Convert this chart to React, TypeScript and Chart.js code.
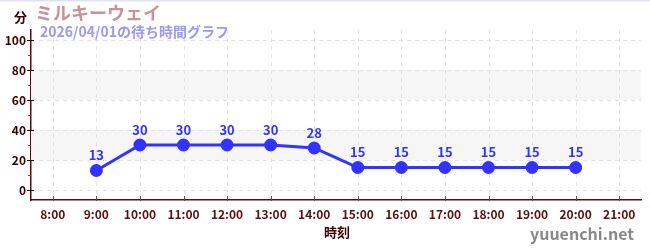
import React, { useEffect, useRef } from "react";
import { Chart, registerables } from "chart.js";

Chart.register(...registerables);

const hours: number[] = [9, 10, 11, 12, 13, 14, 15, 16, 17, 18, 19, 20];
const waits: number[] = [13, 30, 30, 30, 30, 28, 15, 15, 15, 15, 15, 15];
const xTickHours: number[] = [8, 9, 10, 11, 12, 13, 14, 15, 16, 17, 18, 19, 20, 21];
const yTicks: number[] = [0, 20, 40, 60, 80, 100];
const yMinorTicks: number[] = [10, 30, 50, 70, 90];
const bands: [number, number][] = [[20, 40], [60, 80]];
const titleText = "ミルキーウェイ";
const subtitleText = "2026/04/01の待ち時間グラフ";
const unitText = "分";
const xTitleText = "時刻";
const watermark = "yuuenchi.net";

const FONT = "'Noto Sans CJK JP', 'Noto Sans', sans-serif";
const LINE = "rgb(51,51,255)";
const AXIS = "#5a0a0a";

const decorPlugin = {
  id: "decor",
  beforeDatasetsDraw(chart: any) {
    const { ctx, chartArea, scales } = chart;
    const x = scales.x;
    const y = scales.y;
    ctx.save();
    ctx.fillStyle = "#f6f6f6";
    for (const [a, b] of bands) {
      const y1 = y.getPixelForValue(b);
      const y2 = y.getPixelForValue(a);
      ctx.fillRect(chartArea.left, y1, chartArea.right - chartArea.left, y2 - y1);
    }
    ctx.strokeStyle = "#e4e4e4";
    ctx.lineWidth = 1;
    ctx.setLineDash([4, 4]);
    for (const h of xTickHours) {
      const px = Math.round(x.getPixelForValue(h)) + 0.5;
      ctx.beginPath();
      ctx.moveTo(px, chartArea.top);
      ctx.lineTo(px, chartArea.bottom);
      ctx.stroke();
    }
    for (const v of yTicks) {
      const py = Math.round(y.getPixelForValue(v)) + 0.5;
      ctx.beginPath();
      ctx.moveTo(chartArea.left, py);
      ctx.lineTo(chartArea.right, py);
      ctx.stroke();
    }
    ctx.setLineDash([]);
    ctx.strokeStyle = "#3a0a0a";
    for (const v of yTicks) {
      const py = Math.round(y.getPixelForValue(v)) + 0.5;
      ctx.beginPath();
      ctx.moveTo(chartArea.left - 4, py);
      ctx.lineTo(chartArea.left + 3, py);
      ctx.stroke();
    }
    ctx.strokeStyle = "#e02020";
    for (const v of yMinorTicks) {
      const py = Math.round(y.getPixelForValue(v)) + 0.5;
      ctx.beginPath();
      ctx.moveTo(chartArea.left - 3, py);
      ctx.lineTo(chartArea.left, py);
      ctx.stroke();
    }
    ctx.strokeStyle = "#555";
    for (const h of xTickHours) {
      const px = Math.round(x.getPixelForValue(h)) + 0.5;
      ctx.beginPath();
      ctx.moveTo(px, chartArea.bottom - 4);
      ctx.lineTo(px, chartArea.bottom + 1);
      ctx.stroke();
    }
    ctx.restore();
  },
  afterDraw(chart: any) {
    const { ctx, chartArea } = chart;
    ctx.save();
    ctx.fillStyle = "#e2e2f6";
    ctx.fillRect(0, 0, chart.width, 1.5);
    ctx.textBaseline = "middle";
    ctx.textAlign = "left";
    ctx.fillStyle = "#3a0000";
    ctx.font = `bold 13px ${FONT}`;
    ctx.fillText(unitText, 14, 17);
    ctx.fillStyle = "#c89296";
    ctx.font = `bold 18px ${FONT}`;
    ctx.fillText(titleText, 35, 13);
    ctx.fillStyle = "#9a9af2";
    ctx.font = `bold 14px ${FONT}`;
    ctx.fillText(subtitleText, 40, 32);
    ctx.fillStyle = "#3a0000";
    ctx.font = `bold 13px ${FONT}`;
    ctx.textAlign = "center";
    ctx.fillText(xTitleText, (chartArea.left + chartArea.right) / 2 + 1, 232);
    ctx.fillStyle = "#888";
    ctx.font = `bold 16px ${FONT}`;
    ctx.textAlign = "right";
    ctx.fillText(watermark, 634, 234);
    const meta = chart.getDatasetMeta(0);
    ctx.fillStyle = LINE;
    ctx.font = `bold 13px ${FONT}`;
    ctx.textAlign = "center";
    meta.data.forEach((pt: any, i: number) => {
      ctx.fillText(String(waits[i]), pt.x, pt.y - 15);
    });
    ctx.restore();
  },
};

export default function App() {
  const ref = useRef<HTMLCanvasElement>(null);
  useEffect(() => {
    if (!ref.current) return;
    const chart = new Chart(ref.current, {
      type: "line",
      data: {
        datasets: [
          {
            data: hours.map((h, i) => ({ x: h, y: waits[i] })),
            borderColor: LINE,
            backgroundColor: LINE,
            borderWidth: 3,
            pointRadius: 5,
            pointBackgroundColor: LINE,
            pointBorderColor: LINE,
            tension: 0,
          },
        ],
      },
      options: {
        responsive: false,
        animation: false,
        layout: { padding: { left: 0, right: 9, top: 30, bottom: 0 } },
        plugins: { legend: { display: false }, tooltip: { enabled: false }, title: { display: false } },
        scales: {
          x: {
            type: "linear",
            min: 7.5,
            max: 21.5,
            afterBuildTicks: (s: any) => {
              s.ticks = xTickHours.map((v) => ({ value: v }));
            },
            afterFit: (s: any) => {
              s.height = 50;
            },
            grid: { display: false, drawTicks: false },
            border: { display: true, color: AXIS, width: 1.5 },
            ticks: {
              autoSkip: false,
              maxRotation: 0,
              padding: 7,
              color: "#5a1010",
              font: { family: FONT, size: 12, weight: "bold" },
              callback: (v: any) => `${v}:00`,
            },
          },
          y: {
            type: "linear",
            min: -6.67,
            max: 106.67,
            afterBuildTicks: (s: any) => {
              s.ticks = yTicks.map((v) => ({ value: v }));
            },
            afterFit: (s: any) => {
              s.width = 31;
            },
            grid: { display: false, drawTicks: false },
            border: { display: true, color: AXIS, width: 1.5 },
            ticks: {
              padding: 5,
              color: "#3a0000",
              font: { family: FONT, size: 12, weight: "bold" },
            },
          },
        },
      },
      plugins: [decorPlugin],
    } as any);
    return () => chart.destroy();
  }, []);
  return (
    <div style={{ position: "absolute", left: 0, top: 0, width: 650, height: 250, background: "#fff" }}>
      <canvas ref={ref} width={650} height={250} />
    </div>
  );
}
